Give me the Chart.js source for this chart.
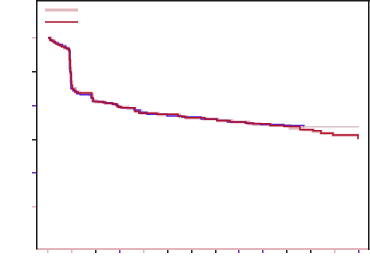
<!DOCTYPE html>
<html>
<head>
<meta charset="utf-8">
<script src="https://cdn.jsdelivr.net/npm/chart.js@4"></script>
<style>
  body { margin: 0; background: #fff; }
</style>
</head>
<body>
<canvas id="chart" width="370" height="259"></canvas>
<script>
// 目盛りの位置
const xTicks = [0, 1, 2, 3, 4, 5, 6, 7, 8, 9, 10, 11, 12, 13];
const yTicks = [1, 2, 3, 4, 5, 6];

// ピンク（太線）
const pinkX = [0.00, 0.12, 0.25, 0.40, 0.55, 0.70, 0.85, 0.90, 0.95, 1.00, 1.15, 1.30, 1.76, 1.86, 2.00, 2.40, 2.75, 2.90, 3.00, 3.35, 3.64, 3.90, 4.60, 5.50, 5.80, 6.50, 7.10, 7.70, 8.40, 8.60, 9.30, 10.13, 10.70, 11.09, 11.42, 11.92, 13.01];
const pinkY = [6.00, 5.92, 5.86, 5.81, 5.76, 5.70, 5.65, 5.10, 4.70, 4.50, 4.40, 4.37, 4.31, 4.15, 4.10, 4.06, 4.03, 3.97, 3.95, 3.91, 3.84, 3.77, 3.73, 3.67, 3.63, 3.60, 3.55, 3.51, 3.46, 3.44, 3.41, 3.33, 3.28, 3.23, 3.18, 3.12, 3.12];

// 赤
const redX = [0.00, 0.08, 0.17, 0.25, 0.33, 0.42, 0.50, 0.58, 0.67, 0.79, 0.88, 0.90, 0.94, 0.98, 1.02, 1.12, 1.26, 1.84, 1.90, 2.10, 2.40, 2.68, 2.85, 2.95, 3.10, 3.64, 3.80, 4.56, 5.44, 5.73, 6.57, 7.07, 7.62, 8.24, 8.58, 9.29, 9.87, 10.54, 11.09, 11.42, 11.92, 12.97];
const redY = [6.00, 5.94, 5.90, 5.86, 5.82, 5.80, 5.77, 5.74, 5.71, 5.67, 5.62, 5.35, 4.95, 4.60, 4.48, 4.40, 4.37, 4.22, 4.12, 4.10, 4.07, 4.05, 4.00, 3.95, 3.93, 3.82, 3.77, 3.74, 3.68, 3.64, 3.59, 3.56, 3.51, 3.48, 3.46, 3.41, 3.38, 3.28, 3.25, 3.18, 3.13, 3.00];

// 青（最後は薄い線）
const blueX = [0.00, 0.10, 0.20, 0.30, 0.45, 0.60, 0.75, 0.88, 0.92, 0.96, 1.05, 1.20, 1.35, 1.80, 1.88, 2.30, 2.70, 2.90, 3.05, 3.60, 3.85, 4.14, 4.98, 5.60, 6.40, 7.07, 7.50, 8.30, 8.90, 9.87, 10.71, 13.01];
const blueY = [6.00, 5.93, 5.89, 5.84, 5.80, 5.75, 5.69, 5.63, 5.00, 4.50, 4.43, 4.35, 4.32, 4.22, 4.12, 4.08, 4.04, 3.97, 3.93, 3.87, 3.80, 3.74, 3.69, 3.66, 3.60, 3.56, 3.51, 3.47, 3.44, 3.41, 3.37, 3.37];
const blueEnd = 10.71;

const xTickColors = ['#e2b5ba', '#e2b5ba', '#222', '#6a2cb0', '#e2b5ba', '#222', '#222', '#222', '#6a2cb0', '#6a2cb0', '#222', '#222', '#e2b5ba', '#6a2cb0'];
const yTickColors = ['#e2b5ba', '#6a2cb0', '#222', '#6a2cb0', '#222', '#e2b5ba'];

function toPoints(xs, ys) {
  return xs.map(function(x, i) { return {x: x, y: ys[i]}; });
}

var ctx = document.getElementById('chart');
var data = {
  datasets: [{
      label: '',
      data: toPoints(pinkX, pinkY),
      borderColor: '#e3b8bc',
      borderWidth: 3,
      order: 3
    }, {
      label: '',
      data: toPoints(redX, redY),
      borderColor: '#b0102c',
      borderWidth: 1.5,
      order: 1
    }, {
      label: '',
      data: toPoints(blueX, blueY),
      borderColor: '#5a26d6',
      borderWidth: 1.5,
      order: 2,
      segment: {
        borderColor: function(c) { return c.p0.parsed.x >= blueEnd ? '#dcc6c8' : undefined; }
      }
  }]
};

var options = {
  responsive: false,
  animation: false,
  layout: { padding: { left: 32, right: 1, top: 1, bottom: 6 } },
  elements: {
    line: { stepped: 'before', tension: 0, fill: false },
    point: { radius: 0 }
  },
  plugins: {
    tooltip: { enabled: false },
    legend: {
      position: 'chartArea',
      align: 'start',
      labels: {
        usePointStyle: true,
        pointStyle: 'line',
        pointStyleWidth: 33,
        boxHeight: 3.3,
        padding: 8,
        font: { size: 4 },
        filter: function(item) { return item.datasetIndex !== 2; },
        sort: function(a, b) { return a.datasetIndex - b.datasetIndex; }
      }
    }
  },
  scales: {
    x: {
      type: 'linear',
      min: -0.46,
      max: 13.43,
      afterBuildTicks: function(scale) { scale.ticks = xTicks.map(function(v) { return {value: v}; }); },
      ticks: { display: false },
      grid: {
        drawOnChartArea: false,
        tickLength: 4,
        lineWidth: 1.5,
        color: function(c) { return xTickColors[c.index]; }
      },
      border: { color: '#e2b5ba', width: 2 }
    },
    y: {
      type: 'linear',
      min: -0.243,
      max: 7.09,
      afterBuildTicks: function(scale) { scale.ticks = yTicks.map(function(v) { return {value: v}; }); },
      ticks: { display: false },
      grid: {
        drawOnChartArea: false,
        tickLength: 5,
        lineWidth: 1.5,
        color: function(c) { return yTickColors[c.index]; }
      },
      border: { color: '#1a1a1a', width: 1.5 }
    },
    // 上と右の枠線
    x2: {
      position: 'top',
      ticks: { display: false },
      grid: { display: false, drawTicks: false },
      border: { color: '#1a1a1a', width: 1.5 }
    },
    y2: {
      position: 'right',
      ticks: { display: false },
      grid: { display: false, drawTicks: false },
      border: { color: '#1a1a1a', width: 1.5 }
    }
  }
};

var chart = new Chart(ctx, {
  type: 'line',
  data: data,
  options: options
});
</script>
</body>
</html>
